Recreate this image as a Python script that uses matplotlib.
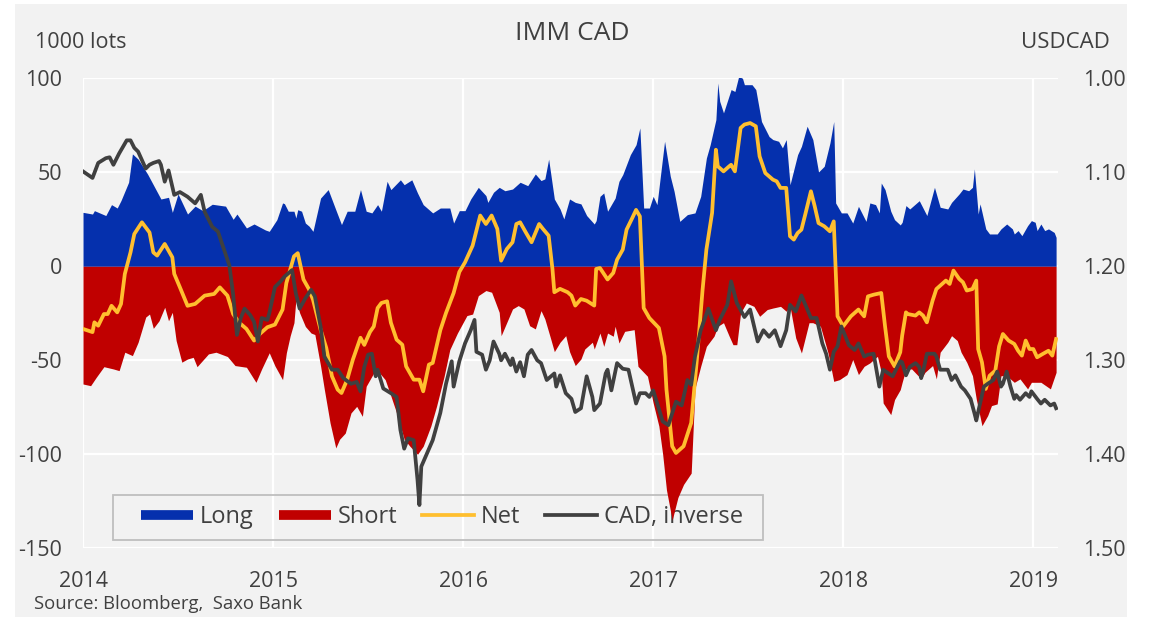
import matplotlib
matplotlib.use("Agg")
import matplotlib.pyplot as plt
from matplotlib.lines import Line2D
from matplotlib.patches import Rectangle
from matplotlib.ticker import FormatStrFormatter

plt.rcParams['font.family'] = ['Open Sans', 'DejaVu Sans']
plt.rcParams['axes.unicode_minus'] = False

# CFTC IMM positioning in CAD (1000 lots), dates as fractional years
long_t = [2014.00, 2014.05, 2014.06, 2014.12, 2014.15, 2014.18, 2014.20, 2014.24, 2014.26, 2014.29,
          2014.34, 2014.41, 2014.45, 2014.47, 2014.50, 2014.55, 2014.59, 2014.63, 2014.68, 2014.75,
          2014.79, 2014.81, 2014.86, 2014.90, 2014.96, 2014.98, 2015.02, 2015.05, 2015.06, 2015.08,
          2015.11, 2015.12, 2015.13, 2015.15, 2015.17, 2015.19, 2015.21, 2015.25, 2015.29, 2015.33,
          2015.36, 2015.39, 2015.43, 2015.46, 2015.49, 2015.52, 2015.55, 2015.57, 2015.60, 2015.62,
          2015.67, 2015.69, 2015.73, 2015.76, 2015.79, 2015.84, 2015.88, 2015.93, 2015.95, 2015.98,
          2016.01, 2016.04, 2016.08, 2016.12, 2016.13, 2016.16, 2016.19, 2016.22, 2016.26, 2016.30,
          2016.34, 2016.38, 2016.41, 2016.43, 2016.45, 2016.48, 2016.51, 2016.53, 2016.56, 2016.59,
          2016.62, 2016.65, 2016.69, 2016.70, 2016.72, 2016.74, 2016.76, 2016.80, 2016.82, 2016.84,
          2016.88, 2016.91, 2016.93, 2016.95, 2016.98, 2017.00, 2017.02, 2017.06, 2017.09, 2017.11,
          2017.14, 2017.18, 2017.22, 2017.25, 2017.28, 2017.30, 2017.33, 2017.34, 2017.35, 2017.37,
          2017.41, 2017.43, 2017.45, 2017.47, 2017.48, 2017.52, 2017.54, 2017.57, 2017.61, 2017.63,
          2017.66, 2017.68, 2017.70, 2017.72, 2017.76, 2017.78, 2017.81, 2017.84, 2017.87, 2017.90,
          2017.93, 2017.95, 2017.96, 2017.99, 2018.02, 2018.05, 2018.08, 2018.12, 2018.14, 2018.17,
          2018.19, 2018.20, 2018.22, 2018.25, 2018.27, 2018.30, 2018.31, 2018.33, 2018.35, 2018.40,
          2018.44, 2018.48, 2018.51, 2018.55, 2018.57, 2018.61, 2018.63, 2018.66, 2018.68, 2018.69,
          2018.71, 2018.72, 2018.75, 2018.77, 2018.81, 2018.83, 2018.86, 2018.89, 2018.90, 2018.92,
          2018.94, 2018.97, 2018.99, 2019.01, 2019.02, 2019.04, 2019.06, 2019.08, 2019.11, 2019.12]
long_v = [28.7, 27.8, 29.6, 27, 32.8, 31, 35, 44.7, 59.8, 57,
          49, 35.8, 36.7, 28.7, 38.5, 27.8, 32, 29.6, 33, 32,
          25, 27.8, 20.4, 22.5, 19.3, 18.6, 24.8, 33.7, 33.3, 29.3,
          29.3, 25.7, 30.1, 29.3, 23, 21.3, 18.6, 36.3, 40.8, 30.1,
          22.2, 29.3, 29.3, 40.8, 29.3, 28.4, 32.8, 29.3, 45.2, 40.8,
          46, 43.4, 46, 39, 32.8, 28.4, 31, 31, 23, 29.6,
          29.6, 35.8, 42, 37.6, 34, 39.4, 42, 40.2, 41.1, 44.7,
          42.9, 49.1, 45.6, 46.5, 57, 35.8, 30.5, 25.2, 35.8, 34,
          33.2, 27, 22.5, 24.3, 37.2, 39, 29.3, 36.3, 45.2, 48.8,
          59.4, 64.7, 73.6, 31, 31, 37.2, 32.8, 66.5, 47.9, 39.9,
          23.9, 27.5, 28.4, 37.2, 57.6, 64.7, 78, 97.5, 87.8, 81.6,
          94, 93, 101, 100, 96.6, 96.6, 94, 77, 69, 67.4,
          66.5, 63, 67.4, 43.4, 59.4, 63.8, 74.5, 67.4, 50.2, 53.2,
          65.6, 77, 33.7, 28.4, 28.4, 23, 31.9, 23.9, 33.7, 32.8,
          28.4, 44.3, 40.8, 29.3, 24.8, 22, 23.4, 32.3, 30.5, 34.9,
          27, 42, 31.4, 30.5, 34, 38.5, 41.1, 40.2, 42, 51.8,
          27.8, 33.2, 19.9, 17.2, 17.2, 19.9, 22.5, 19.9, 17.2, 19,
          16.3, 21.6, 24.3, 23.4, 19, 22.5, 19, 19.9, 18, 15.4]

short_t = [2014.00, 2014.04, 2014.07, 2014.11, 2014.16, 2014.19, 2014.22, 2014.26, 2014.29, 2014.33,
           2014.35, 2014.37, 2014.40, 2014.43, 2014.45, 2014.47, 2014.49, 2014.52, 2014.55, 2014.58,
           2014.60, 2014.66, 2014.70, 2014.76, 2014.80, 2014.86, 2014.91, 2014.94, 2014.98, 2015.01,
           2015.05, 2015.07, 2015.09, 2015.11, 2015.12, 2015.14, 2015.17, 2015.20, 2015.22, 2015.25,
           2015.27, 2015.30, 2015.33, 2015.35, 2015.38, 2015.41, 2015.44, 2015.47, 2015.49, 2015.53,
           2015.56, 2015.59, 2015.62, 2015.65, 2015.69, 2015.72, 2015.76, 2015.79, 2015.83, 2015.86,
           2015.90, 2015.93, 2015.97, 2016.02, 2016.05, 2016.08, 2016.12, 2016.15, 2016.17, 2016.19,
           2016.20, 2016.23, 2016.26, 2016.29, 2016.32, 2016.35, 2016.38, 2016.41, 2016.43, 2016.46,
           2016.48, 2016.51, 2016.54, 2016.56, 2016.59, 2016.62, 2016.64, 2016.68, 2016.69, 2016.72,
           2016.74, 2016.76, 2016.79, 2016.80, 2016.82, 2016.85, 2016.90, 2016.92, 2016.97, 2017.00,
           2017.03, 2017.05, 2017.07, 2017.10, 2017.13, 2017.16, 2017.20, 2017.22, 2017.25, 2017.28,
           2017.32, 2017.34, 2017.37, 2017.40, 2017.42, 2017.44, 2017.46, 2017.49, 2017.53, 2017.56,
           2017.60, 2017.63, 2017.67, 2017.70, 2017.72, 2017.75, 2017.78, 2017.82, 2017.84, 2017.88,
           2017.92, 2017.95, 2017.98, 2018.02, 2018.05, 2018.08, 2018.11, 2018.14, 2018.18, 2018.20,
           2018.21, 2018.25, 2018.27, 2018.30, 2018.31, 2018.33, 2018.36, 2018.41, 2018.43, 2018.47,
           2018.49, 2018.51, 2018.55, 2018.57, 2018.60, 2018.62, 2018.65, 2018.68, 2018.70, 2018.73,
           2018.76, 2018.78, 2018.81, 2018.83, 2018.86, 2018.90, 2018.93, 2018.97, 2018.99, 2019.04,
           2019.09, 2019.12]
short_v = [-62.6, -63.5, -59, -53.4, -54.6, -55.5, -45.7, -47.5, -40.4, -27,
           -25.4, -33, -29, -21.8, -29, -24.5, -39.5, -51, -49.3, -48.4,
           -53.4, -46.6, -45.7, -48, -52.8, -53.7, -61.7, -54.6, -46, -53,
           -60.3, -46, -37, -30, -17.7, -24.8, -32, -35.5, -36.3, -53,
           -65.6, -83.3, -96.6, -92, -88.7, -78, -74.5, -79.8, -63.8, -56.7,
           -56.7, -60.3, -69, -78, -92, -95.7, -100, -95.7, -85, -74.5,
           -58.5, -44.3, -35.5, -26.2, -25.4, -15.6, -12.9, -13.8, -19.1, -24.5,
           -36.9, -29.8, -22.7, -20.9, -22.7, -31.6, -33.3, -23.6, -28, -38.3,
           -45.4, -40.4, -36.9, -45.4, -52.8, -49.3, -44, -40.4, -44, -35.5,
           -42.6, -35.5, -37.2, -31.9, -40.8, -34.6, -33.7, -53.2, -58.5, -72.7,
           -85, -100, -119, -135, -123, -116, -110, -65, -53.2, -42.6,
           -37.2, -31.9, -30, -37.2, -41.7, -41.7, -24.8, -19.5, -21.3, -26.6,
           -23, -22.2, -21.3, -23.9, -21.3, -38.1, -46.1, -30, -30, -31.9,
           -46.1, -61.2, -60.3, -57.6, -49.6, -57.6, -53.2, -51.4, -47.9, -56.4,
           -72.7, -78.9, -70.9, -65.6, -61.7, -54.6, -54.6, -59.9, -56.4, -52.8,
           -59.9, -45.7, -40.4, -36.9, -39.5, -45.7, -51.1, -58.2, -70.6, -84.8,
           -79.4, -74.1, -73.2, -58.2, -58.2, -61.7, -59.9, -65.2, -61.7, -61.7,
           -65.2, -56.4]

net_t = [2014.00, 2014.05, 2014.06, 2014.08, 2014.11, 2014.13, 2014.15, 2014.18, 2014.20, 2014.22,
         2014.25, 2014.27, 2014.31, 2014.35, 2014.37, 2014.39, 2014.43, 2014.47, 2014.48, 2014.51,
         2014.55, 2014.59, 2014.64, 2014.69, 2014.72, 2014.76, 2014.79, 2014.82, 2014.86, 2014.90,
         2014.93, 2014.97, 2015.01, 2015.05, 2015.07, 2015.11, 2015.13, 2015.16, 2015.19, 2015.21,
         2015.25, 2015.28, 2015.31, 2015.34, 2015.36, 2015.39, 2015.42, 2015.46, 2015.48, 2015.51,
         2015.53, 2015.55, 2015.57, 2015.60, 2015.62, 2015.65, 2015.68, 2015.70, 2015.74, 2015.77,
         2015.79, 2015.82, 2015.84, 2015.88, 2015.91, 2015.95, 2015.98, 2016.01, 2016.05, 2016.07,
         2016.09, 2016.12, 2016.15, 2016.18, 2016.20, 2016.23, 2016.26, 2016.28, 2016.30, 2016.33,
         2016.36, 2016.40, 2016.42, 2016.45, 2016.47, 2016.48, 2016.51, 2016.55, 2016.57, 2016.59,
         2016.62, 2016.65, 2016.69, 2016.70, 2016.72, 2016.76, 2016.79, 2016.81, 2016.84, 2016.86,
         2016.89, 2016.91, 2016.93, 2016.95, 2016.98, 2017.03, 2017.06, 2017.07, 2017.10, 2017.12,
         2017.16, 2017.20, 2017.23, 2017.26, 2017.28, 2017.31, 2017.33, 2017.34, 2017.37, 2017.40,
         2017.41, 2017.43, 2017.46, 2017.48, 2017.51, 2017.54, 2017.56, 2017.59, 2017.63, 2017.65,
         2017.67, 2017.70, 2017.72, 2017.74, 2017.76, 2017.78, 2017.80, 2017.83, 2017.85, 2017.87,
         2017.90, 2017.93, 2017.95, 2017.97, 2018.00, 2018.04, 2018.05, 2018.08, 2018.11, 2018.13,
         2018.16, 2018.20, 2018.22, 2018.24, 2018.27, 2018.30, 2018.31, 2018.33, 2018.34, 2018.38,
         2018.40, 2018.42, 2018.44, 2018.47, 2018.49, 2018.51, 2018.54, 2018.56, 2018.58, 2018.61,
         2018.63, 2018.65, 2018.68, 2018.70, 2018.71, 2018.73, 2018.75, 2018.77, 2018.80, 2018.82,
         2018.84, 2018.87, 2018.90, 2018.92, 2018.94, 2018.96, 2018.98, 2019.00, 2019.02, 2019.05,
         2019.08, 2019.10, 2019.12]
net_v = [-33.3, -35, -29.8, -31.6, -25.4, -25.4, -21, -24.5, -20, -4.1,
         7.4, 17.2, 23.4, 18, 7.4, 5.7, 11.9, 4.8, -4, -11.2,
         -21, -20, -15.6, -14.7, -11.2, -15.6, -25.4, -29.8, -33.3, -39.5,
         -36, -32.4, -31, -23, -8.9, 5.3, 7, -7, -12.4, -17.7,
         -33.7, -43.4, -58.5, -65.6, -67.4, -60.3, -49.6, -38, -41.8, -34.9,
         -32, -22.2, -19.5, -18.6, -30, -39, -41.7, -53.2, -60.3, -60.3,
         -66.5, -52.3, -51.4, -34, -24.8, -14.2, -3, 2.1, 11, 19,
         27, 22.5, 27, 19.9, 3, 9.2, 12.8, 22.5, 23.4, 18,
         12.8, 22.5, 19.9, 16.3, -1.4, -13.8, -12, -13.8, -15.6, -20.9,
         -17.4, -18.3, -20.9, -1.4, -0.9, -7, -3.5, 3.5, 8.9, 19.5,
         25.7, 30, 26.6, -22.2, -27.5, -32.8, -47.9, -65.6, -95.7, -99.3,
         -95.7, -83.3, -49.6, -12.4, 8.9, 28.4, 62, 53.2, 50.5, 53.2,
         54, 50.5, 73.6, 75.4, 76.2, 74.5, 58.5, 49.6, 46.1, 45.2,
         41.7, 41.7, 16, 14.2, 17.7, 19.5, 27.5, 39.9, 31.9, 23,
         21.3, 18.6, 23.9, -26.6, -31.9, -26.6, -25.7, -23, -26.6, -16,
         -15.1, -14.2, -31.9, -47.9, -53.2, -45.7, -36.9, -24.5, -25.4, -26.2,
         -24.5, -26.2, -29.8, -18.3, -12.1, -10.3, -7.6, -9.4, -2.3, -6.7,
         -8.5, -12.9, -12.1, -7.6, -44, -51.1, -65.2, -58.2, -55.5, -42.6,
         -36, -39.5, -41.3, -44.9, -47.5, -39.5, -44, -44, -48.4, -46.6,
         -44.9, -47.5, -38.7]

# USDCAD spot, plotted on an inverted right axis
cad_t = [2014.00, 2014.05, 2014.08, 2014.12, 2014.14, 2014.16, 2014.19, 2014.23, 2014.25, 2014.27,
         2014.29, 2014.33, 2014.35, 2014.37, 2014.40, 2014.41, 2014.43, 2014.45, 2014.48, 2014.51,
         2014.55, 2014.59, 2014.62, 2014.64, 2014.68, 2014.71, 2014.74, 2014.77, 2014.79, 2014.81,
         2014.83, 2014.85, 2014.88, 2014.90, 2014.92, 2014.94, 2014.97, 2014.98, 2015.01, 2015.04,
         2015.06, 2015.10, 2015.12, 2015.14, 2015.17, 2015.20, 2015.22, 2015.25, 2015.27, 2015.31,
         2015.34, 2015.37, 2015.41, 2015.44, 2015.46, 2015.48, 2015.50, 2015.52, 2015.54, 2015.55,
         2015.58, 2015.62, 2015.65, 2015.67, 2015.69, 2015.71, 2015.74, 2015.76, 2015.77, 2015.78,
         2015.81, 2015.84, 2015.88, 2015.91, 2015.94, 2015.95, 2015.98, 2016.01, 2016.04, 2016.06,
         2016.07, 2016.10, 2016.12, 2016.14, 2016.16, 2016.19, 2016.20, 2016.22, 2016.25, 2016.26,
         2016.28, 2016.30, 2016.32, 2016.34, 2016.36, 2016.39, 2016.41, 2016.44, 2016.48, 2016.49,
         2016.51, 2016.54, 2016.57, 2016.59, 2016.62, 2016.65, 2016.68, 2016.69, 2016.72, 2016.75,
         2016.76, 2016.78, 2016.81, 2016.84, 2016.87, 2016.91, 2016.93, 2016.96, 2016.98, 2017.00,
         2017.05, 2017.08, 2017.12, 2017.15, 2017.18, 2017.20, 2017.22, 2017.25, 2017.29, 2017.33,
         2017.35, 2017.39, 2017.41, 2017.44, 2017.48, 2017.51, 2017.55, 2017.58, 2017.61, 2017.64,
         2017.67, 2017.70, 2017.72, 2017.75, 2017.78, 2017.83, 2017.86, 2017.89, 2017.91, 2017.93,
         2017.95, 2017.97, 2017.99, 2018.03, 2018.06, 2018.08, 2018.11, 2018.13, 2018.16, 2018.19,
         2018.21, 2018.26, 2018.30, 2018.31, 2018.33, 2018.35, 2018.38, 2018.40, 2018.41, 2018.42,
         2018.44, 2018.48, 2018.49, 2018.51, 2018.55, 2018.57, 2018.59, 2018.62, 2018.64, 2018.67,
         2018.69, 2018.70, 2018.72, 2018.74, 2018.76, 2018.79, 2018.81, 2018.83, 2018.84, 2018.86,
         2018.88, 2018.90, 2018.91, 2018.93, 2018.96, 2018.98, 2018.99, 2019.02, 2019.04, 2019.06,
         2019.09, 2019.11, 2019.12]
cad_v = [1.099, 1.106, 1.090, 1.085, 1.084, 1.092, 1.080, 1.066, 1.066, 1.074,
         1.078, 1.096, 1.092, 1.090, 1.088, 1.092, 1.110, 1.098, 1.124, 1.121,
         1.126, 1.133, 1.124, 1.142, 1.158, 1.163, 1.181, 1.199, 1.230, 1.273,
         1.255, 1.245, 1.252, 1.259, 1.280, 1.255, 1.257, 1.250, 1.222, 1.216,
         1.211, 1.204, 1.229, 1.245, 1.234, 1.225, 1.232, 1.264, 1.296, 1.310,
         1.310, 1.319, 1.325, 1.323, 1.333, 1.307, 1.294, 1.293, 1.317, 1.310,
         1.330, 1.335, 1.339, 1.374, 1.394, 1.383, 1.385, 1.427, 1.454, 1.413,
         1.399, 1.385, 1.356, 1.325, 1.301, 1.328, 1.301, 1.282, 1.268, 1.257,
         1.291, 1.294, 1.310, 1.300, 1.280, 1.293, 1.300, 1.293, 1.305, 1.298,
         1.312, 1.302, 1.317, 1.294, 1.289, 1.300, 1.303, 1.321, 1.314, 1.328,
         1.316, 1.335, 1.341, 1.355, 1.351, 1.317, 1.339, 1.353, 1.346, 1.314,
         1.310, 1.332, 1.303, 1.309, 1.310, 1.346, 1.335, 1.335, 1.339, 1.332,
         1.365, 1.369, 1.344, 1.348, 1.321, 1.326, 1.296, 1.268, 1.245, 1.268,
         1.257, 1.241, 1.216, 1.239, 1.254, 1.246, 1.280, 1.268, 1.275, 1.268,
         1.285, 1.268, 1.241, 1.248, 1.231, 1.255, 1.255, 1.282, 1.293, 1.310,
         1.291, 1.285, 1.264, 1.284, 1.289, 1.282, 1.296, 1.294, 1.293, 1.328,
         1.310, 1.317, 1.301, 1.302, 1.316, 1.307, 1.303, 1.307, 1.319, 1.312,
         1.293, 1.293, 1.296, 1.310, 1.310, 1.321, 1.316, 1.328, 1.332, 1.341,
         1.356, 1.364, 1.346, 1.328, 1.325, 1.321, 1.312, 1.328, 1.325, 1.312,
         1.328, 1.341, 1.337, 1.342, 1.335, 1.339, 1.333, 1.341, 1.346, 1.342,
         1.348, 1.346, 1.351]

years = [2014, 2015, 2016, 2017, 2018, 2019]
left_ticks = [-150, -100, -50, 0, 50, 100]
right_ticks = [1.00, 1.10, 1.20, 1.30, 1.40, 1.50]

BLUE = '#0530ad'
RED = '#c00000'
YELLOW = '#ffbf2f'
DARK = '#404040'
BG = '#f2f2f2'
TXT = '#404040'

W, H = 1153, 617
fig = plt.figure(figsize=(W / 100, H / 100), dpi=100)
fig.patch.set_facecolor('white')
fig.add_artist(Rectangle((15 / W, 0), 1112 / W, 613 / H, transform=fig.transFigure,
                         facecolor=BG, edgecolor='none', zorder=-5))

ax = fig.add_axes([83 / W, (H - 548.3) / H, 975 / W, 470 / H])
ax.set_facecolor(BG)
ax.fill_between(long_t, 0, long_v, color=BLUE, lw=0, zorder=2)
ax.fill_between(short_t, 0, short_v, color=RED, lw=0, zorder=2)
ax.plot(net_t, net_v, color=YELLOW, lw=2.7, zorder=3)

ax.set_xlim(2014, 2019.13)
ax.set_ylim(-150, 100)
ax.set_xticks(years)
ax.set_yticks(left_ticks)
ax.set_axisbelow(True)
ax.grid(True, color='white', lw=1.6)
for s in ax.spines.values():
    s.set_visible(False)
ax.tick_params(axis='both', length=0, labelsize=15.5, colors=TXT)
ax.tick_params(axis='y', pad=15)
ax.tick_params(axis='x', pad=16)

ax2 = ax.twinx()
ax2.plot(cad_t, cad_v, color=DARK, lw=2.7)
ax2.set_ylim(1.50, 1.00)
ax2.set_yticks(right_ticks)
ax2.yaxis.set_major_formatter(FormatStrFormatter('%.2f'))
ax2.tick_params(axis='y', length=0, labelsize=15.5, colors=TXT, pad=18)
for s in ax2.spines.values():
    s.set_visible(False)

# legend, frame drawn separately so it can be wider than the entries
handles = [Line2D([], [], color=BLUE, lw=7, solid_capstyle='butt'),
           Line2D([], [], color=RED, lw=7, solid_capstyle='butt'),
           Line2D([], [], color=YELLOW, lw=2.7),
           Line2D([], [], color=DARK, lw=2.7)]
labels = ['Long', 'Short', 'Net', 'CAD, inverse']
leg = ax.legend(handles, labels, ncol=4, loc='center left',
                bbox_to_anchor=((141 - 83) / 975, (548.3 - 517) / 470),
                frameon=False, fontsize=17, handlelength=2.2, handletextpad=0.3,
                columnspacing=1.05, borderpad=0, borderaxespad=0)
for t in leg.get_texts():
    t.set_color(TXT)
leg.set_zorder(1.5)
ax.add_patch(Rectangle(((113 - 83) / 975, (548.3 - 540) / 470), (763 - 113) / 975, 45 / 470,
                       transform=ax.transAxes, facecolor='none', edgecolor='#bfbfbf',
                       lw=1.3, zorder=1.5))

fig.text(572 / W, 1 - 33 / H, 'IMM CAD', ha='center', va='center', fontsize=19, color=TXT)
fig.text(35 / W, 1 - 42 / H, '1000 lots', ha='left', va='center', fontsize=15.5, color=TXT)
fig.text(1110 / W, 1 - 42 / H, 'USDCAD', ha='right', va='center', fontsize=16, color=TXT)
fig.text(34 / W, 1 - 604 / H, 'Source: Bloomberg,  Saxo Bank', ha='left', va='center',
         fontsize=13.3, color=TXT)

fig.savefig('out.png', dpi=100, facecolor=fig.get_facecolor())
